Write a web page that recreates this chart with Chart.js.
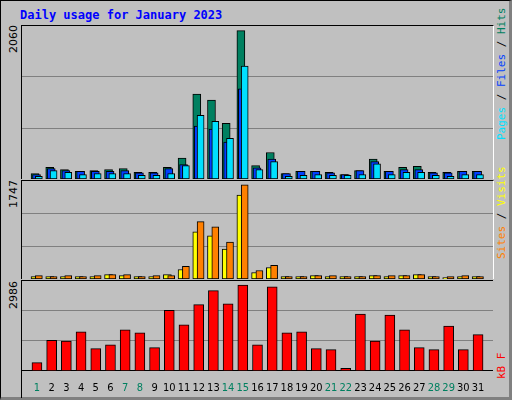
<!DOCTYPE html>
<html>
<head>
<meta charset="utf-8">
<script src="https://cdn.jsdelivr.net/npm/chart.js@4"></script>
<style>
  body { margin: 0; width: 512px; height: 400px; overflow: hidden; }
  #frame { position: absolute; left: 0; top: 0; width: 508px; height: 396px; background: #c0c0c0;
    border: 1px solid #000; border-right: 3px solid #808080; border-bottom: 3px solid #808080; }
  .title { position: absolute; left: 19px; top: 7px; color: #0000ff; font: bold 12px "DejaVu Sans Mono", monospace; }
  .panel { position: absolute; left: 20px; width: 471px; border-left: 1px solid #000; border-top: 1px solid #000;
    border-right: 1px solid #fff; }
  .vmax { position: absolute; left: 6px; font: 11px "DejaVu Sans", sans-serif; transform-origin: left top;
    transform: rotate(-90deg); }
  .side { position: absolute; left: 494px; font: 11px "DejaVu Sans Mono", monospace; white-space: nowrap;
    transform-origin: left top; transform: rotate(-90deg); }
</style>
</head>
<body>
<div id="frame">
  <div class="title">Daily usage for January 2023</div>
  <div class="panel" style="top:24px;height:153px"><canvas id="c1"></canvas></div>
  <div class="panel" style="top:179px;height:98px"><canvas id="c2"></canvas></div>
  <div class="panel" style="top:279px;height:117px;border-right:none"><canvas id="c3"></canvas></div>
  <div class="vmax" style="top:52px">2060</div>
  <div class="vmax" style="top:207px">1747</div>
  <div class="vmax" style="top:308px">2986</div>
  <div class="side" style="top:139px"><span style="color:#00e0ff">Pages</span> / <span style="color:#0040ff">Files</span> / <span style="color:#008060">Hits</span></div>
  <div class="side" style="top:258px"><span style="color:#ff8000">Sites</span> / <span style="color:#ffff00">Visits</span></div>
  <div class="side" style="top:378px;color:#ff0000">kB F</div>
</div>
<script>
// 일별 데이터
const days = Array.from({ length: 31 }, (_, i) => i + 1);
const weekendDays = [1, 7, 8, 14, 15, 21, 22, 28, 29];
const hits = [75,163,130,107,117,130,144,93,93,163,289,1179,1095,774,2060,186,368,75,107,107,93,61,117,275,107,163,177,93,93,107,107];
const files = [61,144,117,107,107,107,117,84,84,144,200,736,694,513,1254,154,275,75,107,107,84,61,117,242,107,130,130,84,84,107,107];
const pages = [37,117,93,61,75,75,75,51,51,75,186,885,802,564,1570,130,242,37,51,61,51,51,61,210,61,93,93,51,37,61,61];
const visits = [63,44,63,44,63,82,82,44,63,63,233,1065,970,687,1747,158,252,44,44,63,63,44,44,63,63,63,82,44,44,63,44];
const sites = [44,44,44,44,44,82,63,44,44,82,176,876,800,554,1556,120,214,44,44,63,44,44,44,63,44,63,82,44,25,44,44];
const kbytes = [282,1064,1032,1358,771,901,1423,1325,804,2107,1596,2302,2791,2335,2986,901,2921,1325,1358,771,738,87,1977,1032,1944,1423,804,738,1553,738,1260];

function series(values, shift) {
  return values.map((v, i) => ({ x: days[i] + shift, y: v }));
}

function bars(label, values, shift, color, width, order) {
  return { label, data: series(values, shift), backgroundColor: color, borderColor: '#000',
    borderWidth: 1, borderSkipped: false, barThickness: width, order, grouped: false };
}

function makeChart(id, datasets, max, showX) {
  new Chart(document.getElementById(id), {
    type: 'bar',
    data: { datasets },
    options: {
      animation: false, responsive: true, maintainAspectRatio: false,
      layout: { padding: 0 },
      plugins: { legend: { display: false }, tooltip: { enabled: false } },
      scales: {
        x: {
          type: 'linear', min: 0.5, max: 31.5, display: showX,
          afterBuildTicks: (ax) => { ax.ticks = days.map((d) => ({ value: d })); },
          grid: { display: false },
          border: { color: '#000' },
          ticks: {
            autoSkip: false, maxRotation: 0, padding: 3,
            font: { family: 'DejaVu Sans Condensed', size: 11 },
            color: (c) => (weekendDays.includes(c.tick.value) ? '#008060' : '#000'),
          },
        },
        y: {
          min: 0, max,
          afterBuildTicks: (ax) => { ax.ticks = [1, 2].map((k) => ({ value: (max * k) / 3 })); },
          ticks: { display: false },
          grid: { color: '#808080', drawTicks: false },
          border: { display: false },
        },
      },
    },
  });
}

makeChart('c1', [
  bars('Pages', pages, 0.13, '#00e0ff', 7, 1),
  bars('Files', files, -0.03, '#0040ff', 8, 2),
  bars('Hits', hits, -0.13, '#008060', 8, 3),
], 2125, false);

makeChart('c2', [
  bars('Visits', visits, 0.13, '#ff8000', 7, 1),
  bars('Sites', sites, -0.13, '#ffff00', 8, 2),
], 1819, false);

makeChart('c3', [bars('kB F', kbytes, 0, '#ff0000', 10, 1)], 3126, true);
</script>
</body>
</html>
